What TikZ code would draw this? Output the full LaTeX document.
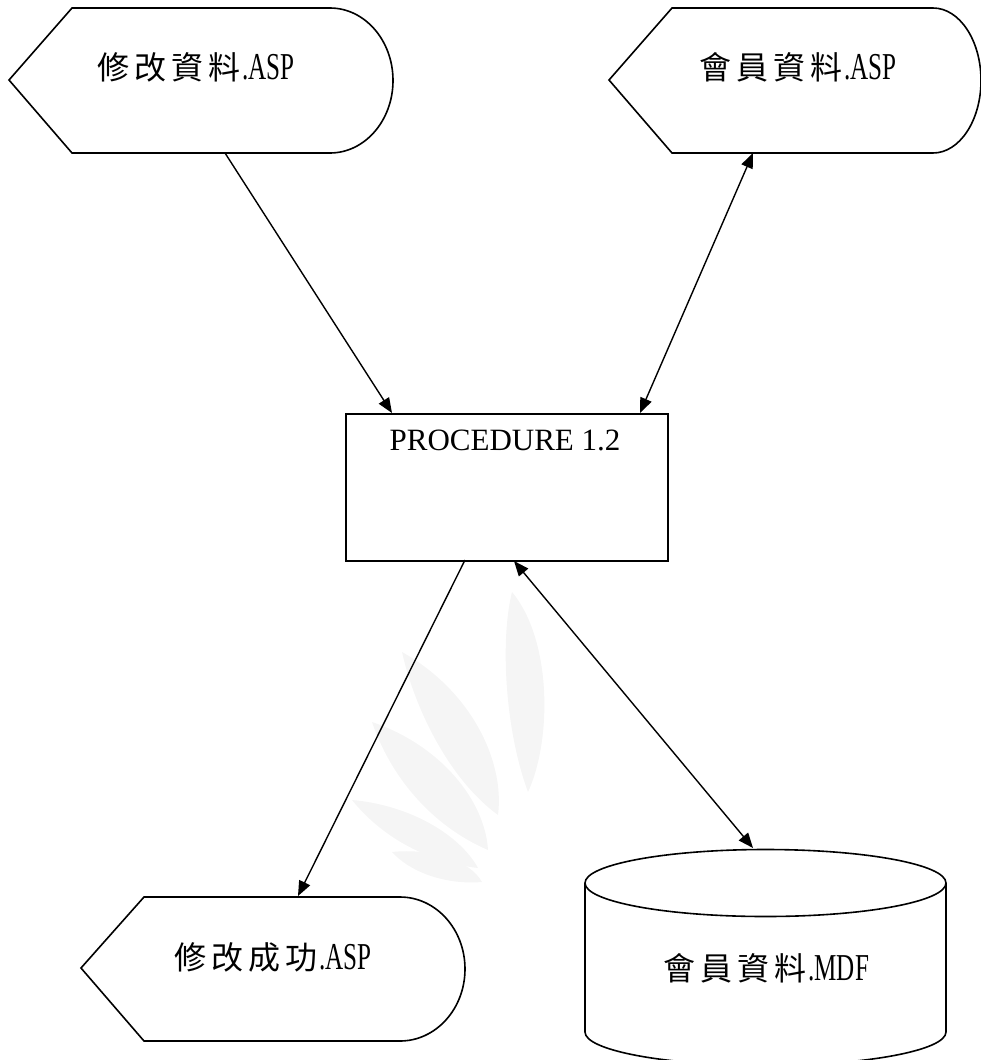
\documentclass[tikz,border=0pt]{standalone}
\usepackage{fontspec}
\setmainfont{Liberation Serif}
\newfontfamily\cjk[LetterSpace=16]{Noto Sans CJK TC}
\usetikzlibrary{arrows.meta}
\newcommand\lat[1]{\hspace{2pt}\scalebox{0.66}[1]{\fontsize{38}{40}\selectfont\rmfamily #1}}
\tikzset{
  outline/.style={draw=black, line width=1.6pt, line join=miter},
  conn/.style={line width=1.4pt, -{Triangle[length=15pt,width=12pt]}},
  dconn/.style={line width=1.4pt, {Triangle[length=15pt,width=12pt]}-{Triangle[length=15pt,width=12pt]}},
  lbl/.style={inner sep=0pt, font=\fontsize{32}{34}\selectfont},
  leaf/.style={fill=black!4, draw=none},
}
\begin{document}
\begin{tikzpicture}[x=1pt,y=-1pt]
\useasboundingbox (0,0) rectangle (981,1060);
\clip (0,0) rectangle (981,1060);
% faint watermark
\fill[leaf] (512,592) .. controls (552,640) and (552,740) .. (528,792) .. controls (505,730) and (500,640) .. (512,592);
\fill[leaf] (402,652) .. controls (470,690) and (505,760) .. (498,815) .. controls (450,780) and (415,710) .. (402,652);
\fill[leaf] (372,722) .. controls (440,745) and (485,800) .. (488,850) .. controls (430,825) and (390,775) .. (372,722);
\fill[leaf] (352,800) .. controls (410,805) and (460,835) .. (478,868) .. controls (425,862) and (380,835) .. (352,800);
\fill[leaf] (392,852) .. controls (430,848) and (470,860) .. (482,882) .. controls (445,885) and (410,872) .. (392,852);
% shape 1
\draw[outline] (9,80) -- (72,8) -- (330,8) arc[start angle=-90,end angle=90,x radius=63,y radius=72.5] -- (72,153) -- cycle;
\node[lbl] (t1) at (196,67) {\cjk 修改資料\lat{.ASP}};
% shape 2
\draw[outline] (609,80) -- (672,8) -- (933,8) arc[start angle=-90,end angle=90,x radius=48,y radius=72.5] -- (672,153) -- cycle;
\node[lbl] (t2) at (798,67) {\cjk 會員資料\lat{.ASP}};
% shape 3
\draw[outline] (81,968) -- (144,897) -- (400,897) arc[start angle=-90,end angle=90,x radius=65,y radius=72] -- (144,1041) -- cycle;
\node[lbl] (t3) at (273,957) {\cjk 修改成功\lat{.ASP}};
% cylinder
\draw[outline] (585,883) -- (585,1032) arc[start angle=180,end angle=0,x radius=180.5,y radius=33.5] -- (946,883);
\draw[outline] (765.5,883) ellipse[x radius=180.5,y radius=33.5];
\node[lbl] (t4) at (766,968) {\cjk 會員資料\lat{.MDF}};
% procedure box
\node[outline, anchor=north west, minimum width=322pt, minimum height=147pt, inner sep=0pt] (proc) at (345,413) {};
\node[inner sep=0pt, font=\fontsize{31}{33}\selectfont] (ptext) at (505,440) {PROCEDURE 1.2};
% connector end points
\coordinate (s1b) at (225,153);
\coordinate (s2b) at (753,153);
\coordinate (s3t) at (298,896);
\coordinate (cyt) at (753,848);
\coordinate (pt1) at (392,413);
\coordinate (pt2) at (640,413);
\coordinate (pb1) at (465,560);
\coordinate (pb2) at (514,561);
\draw[conn] (s1b) -- (pt1);
\draw[dconn] (s2b) -- (pt2);
\draw[conn] (pb1) -- (s3t);
\draw[dconn] (pb2) -- (cyt);
\end{tikzpicture}
\end{document}
